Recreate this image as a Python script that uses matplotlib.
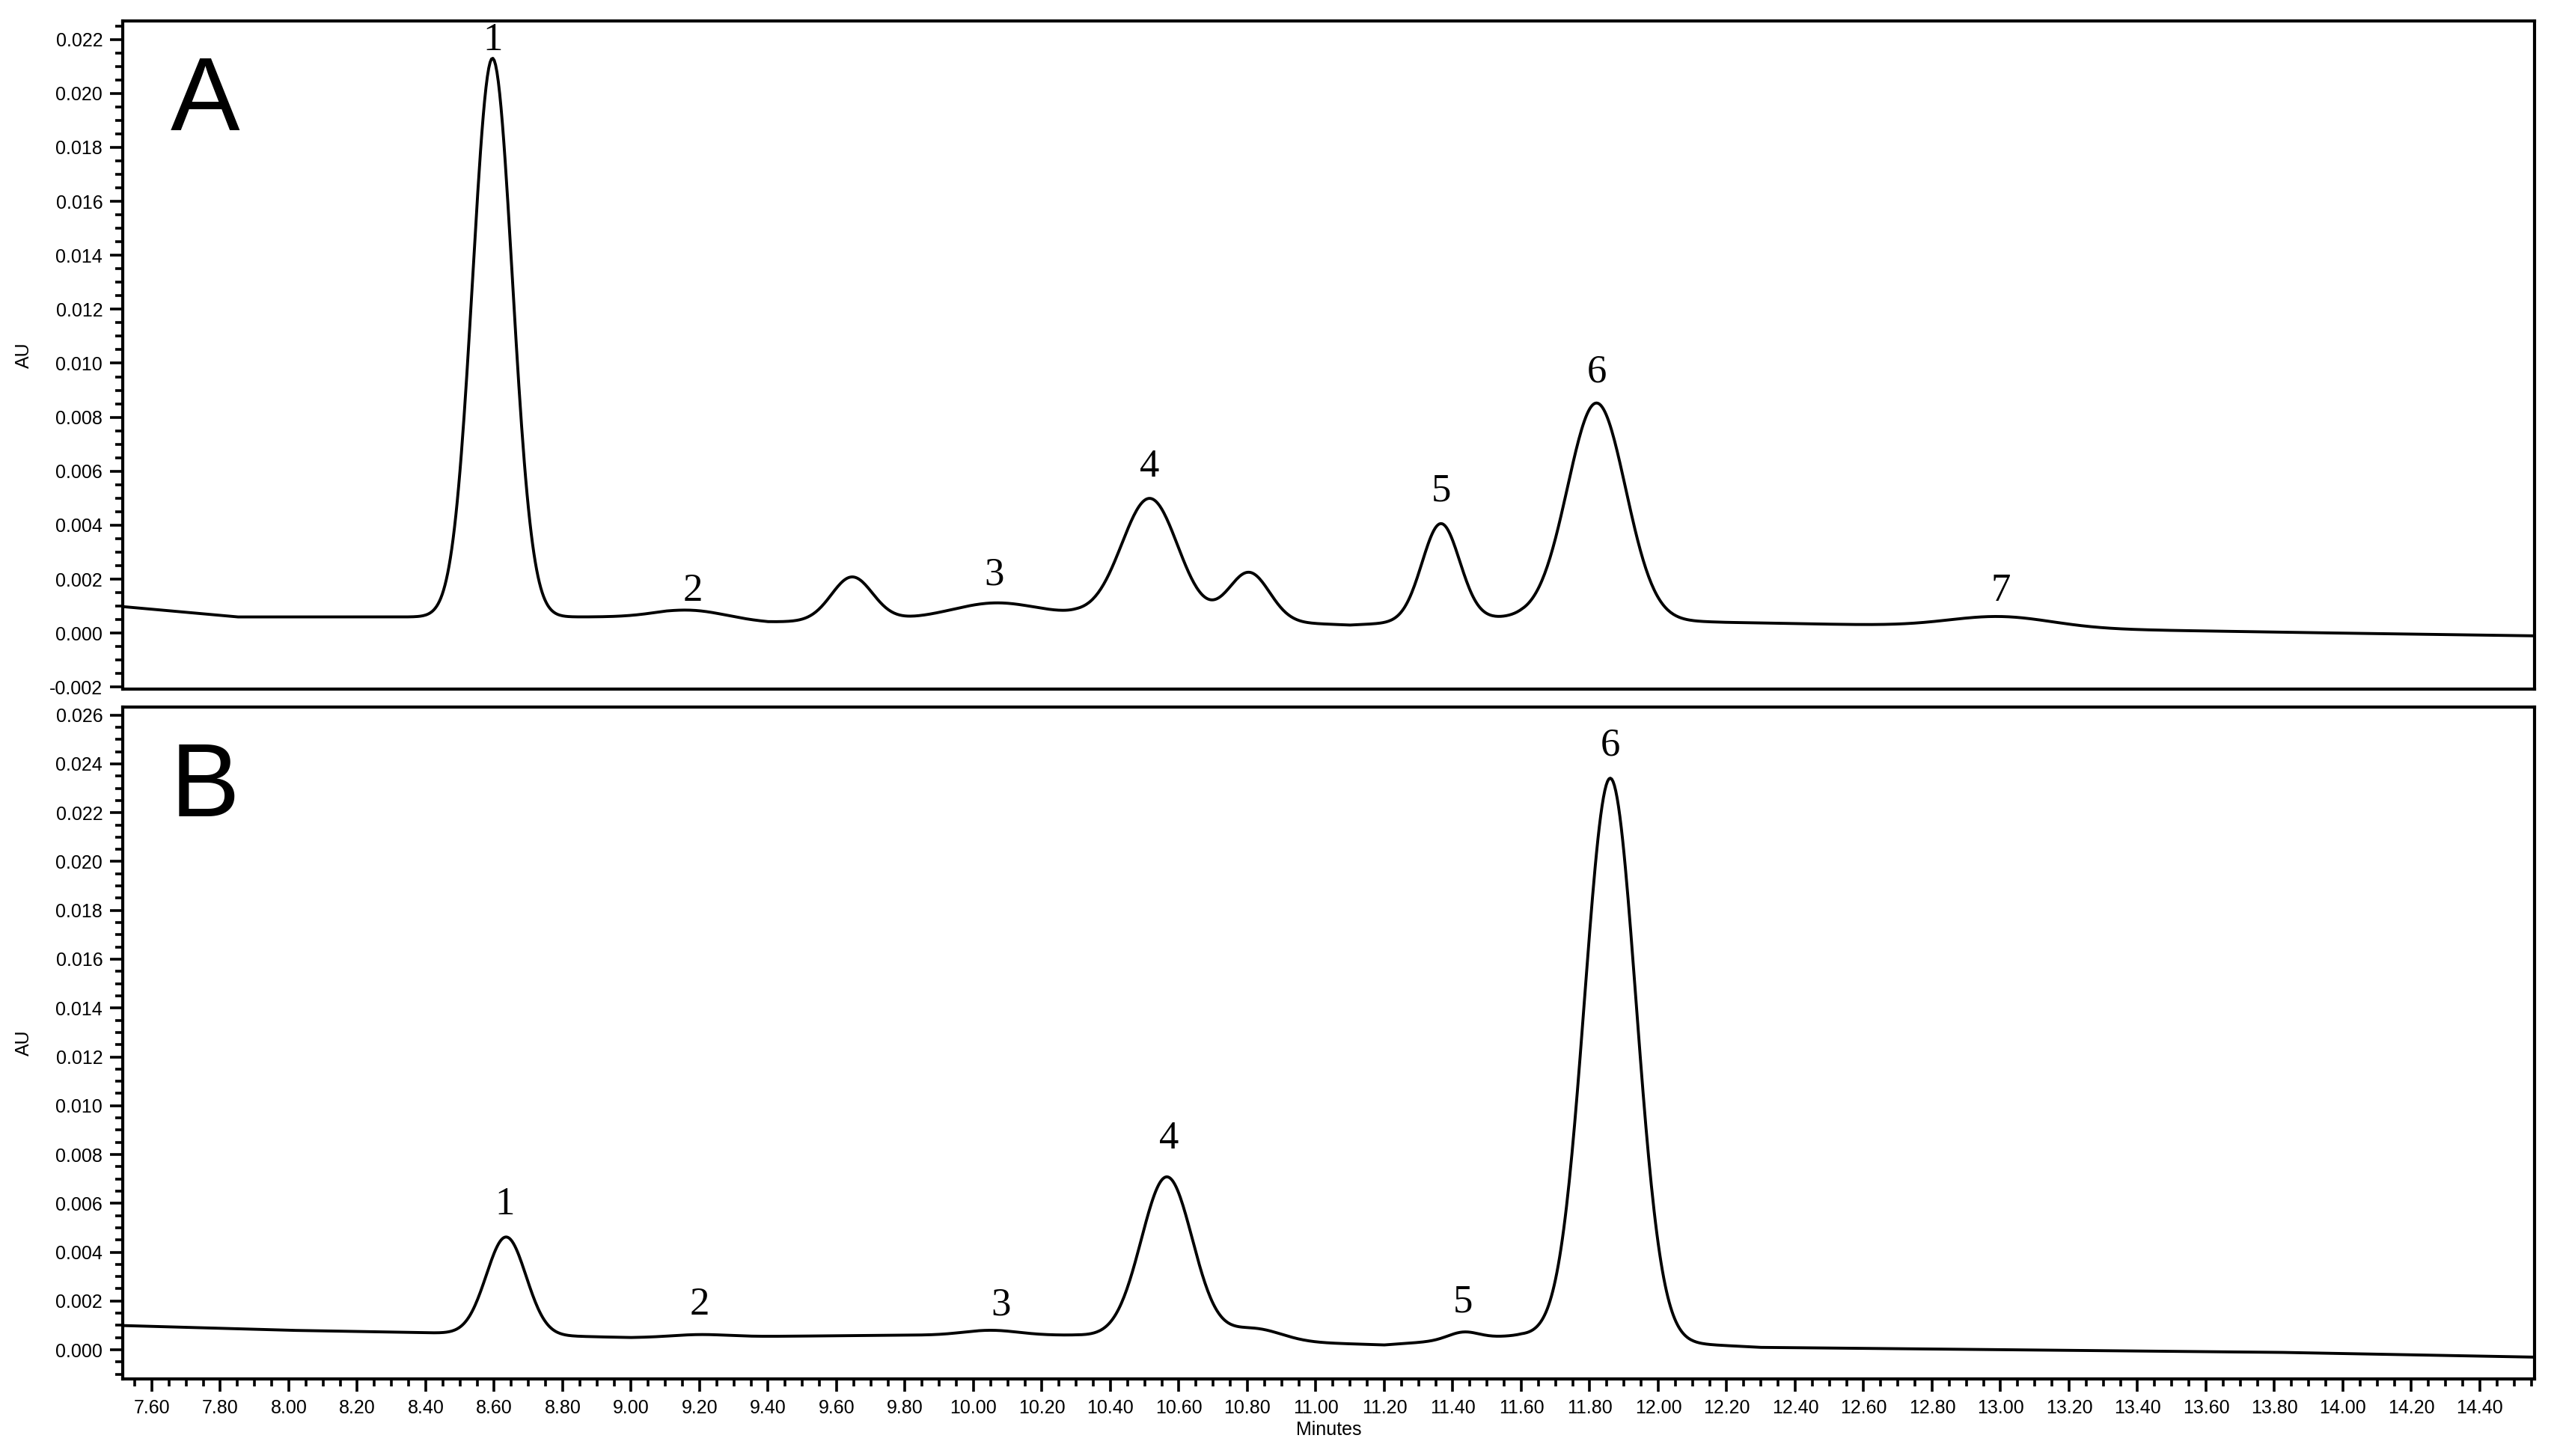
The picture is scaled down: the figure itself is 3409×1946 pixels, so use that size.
import numpy as np
import matplotlib.pyplot as plt
from matplotlib.ticker import MultipleLocator, FormatStrFormatter

# peak tables: retention time (min), height (AU), sigma (min)
a_rt = [8.595, 9.18, 9.645, 10.06, 10.515, 10.805, 11.365, 11.82, 13.00]
a_h = [0.0207, 0.0003, 0.0016, 0.0005, 0.0044, 0.0018, 0.0036, 0.0080, 0.0004]
a_sd = [0.058, 0.10, 0.06, 0.12, 0.082, 0.06, 0.055, 0.085, 0.15]
a_base_t = [7.50, 7.85, 8.40, 9.10, 9.40, 10.30, 11.10, 11.60, 12.20, 13.50, 14.00, 14.56]
a_base_v = [0.0010, 0.0006, 0.0006, 0.0006, 0.0004, 0.0007, 0.0003, 0.0006, 0.0004, 0.0001, 0.0000, -0.0001]
a_labels = ['1', '2', '3', '4', '5', '6', '7']
a_lab_t = [8.595, 9.18, 10.06, 10.515, 11.365, 11.82, 13.00]
a_lab_y = [0.0213, 0.0009, 0.0015, 0.0055, 0.0046, 0.0090, 0.0009]

b_rt = [8.635, 9.20, 10.05, 10.565, 10.82, 11.43, 11.86]
b_h = [0.0040, 0.0001, 0.0002, 0.0066, 0.0005, 0.0003, 0.0230]
b_sd = [0.058, 0.08, 0.08, 0.075, 0.08, 0.045, 0.075]
b_base_t = [7.50, 8.00, 8.40, 9.00, 9.80, 10.30, 11.20, 11.60, 12.30, 13.80, 14.56]
b_base_v = [0.0010, 0.0008, 0.0007, 0.0005, 0.0006, 0.0006, 0.0002, 0.0006, 0.0001, -0.0001, -0.0003]
b_labels = ['1', '2', '3', '4', '5', '6']
b_lab_t = [8.63, 9.20, 10.08, 10.57, 11.43, 11.86]
b_lab_y = [0.0052, 0.0011, 0.0011, 0.0079, 0.0012, 0.0240]


def trace(t, rt, h, sd, bt, bv):
    y = np.interp(t, bt, bv)
    for c, hh, s in zip(rt, h, sd):
        y = y + hh * np.exp(-0.5 * ((t - c) / s) ** 2)
    return y


t = np.arange(7.5, 14.56, 0.004)
ya = trace(t, a_rt, a_h, a_sd, a_base_t, a_base_v)
yb = trace(t, b_rt, b_h, b_sd, b_base_t, b_base_v)

tickfont = ['Liberation Sans Narrow', 'Liberation Sans', 'DejaVu Sans']
fig = plt.figure(figsize=(17.045, 9.73), dpi=200)
ax1 = fig.add_axes([75 / 1563, 1 - 421 / 890, 1478 / 1563, 408 / 890])
ax2 = fig.add_axes([75 / 1563, 1 - 843 / 890, 1478 / 1563, 411 / 890])

panels = [
    (ax1, ya, 'A', a_labels, a_lab_t, a_lab_y, (-0.00206, 0.02267)),
    (ax2, yb, 'B', b_labels, b_lab_t, b_lab_y, (-0.0012, 0.02634)),
]
for ax, y, tag, labs, lt, ly, ylim in panels:
    ax.plot(t, y, color='black', lw=1.4)
    ax.set_xlim(7.514, 14.56)
    ax.set_ylim(*ylim)
    ax.yaxis.set_major_locator(MultipleLocator(0.002))
    ax.yaxis.set_minor_locator(MultipleLocator(0.0005))
    ax.yaxis.set_major_formatter(FormatStrFormatter('%.3f'))
    ax.xaxis.set_major_locator(MultipleLocator(0.2))
    ax.xaxis.set_minor_locator(MultipleLocator(0.05))
    ax.xaxis.set_major_formatter(FormatStrFormatter('%.2f'))
    ax.tick_params(which='major', length=6, width=1.3, labelsize=9)
    ax.tick_params(which='minor', length=3.5, width=1.3)
    for lbl in ax.get_xticklabels() + ax.get_yticklabels():
        lbl.set_family(tickfont)
    for s in ax.spines.values():
        s.set_linewidth(1.5)
    ax.set_ylabel('AU', fontsize=9, family=tickfont, labelpad=12)
    ax.text(0.02, 0.95, tag, transform=ax.transAxes, fontsize=50,
            family=['Liberation Sans', 'DejaVu Sans'], va='top', ha='left')
    for s, xx, yy in zip(labs, lt, ly):
        ax.text(xx, yy, s, fontsize=19, family=['Liberation Serif', 'DejaVu Serif'],
                ha='center', va='bottom')

ax1.tick_params(axis='x', which='both', bottom=False, labelbottom=False)
ax2.set_xlabel('Minutes', fontsize=9, family=tickfont, labelpad=2)
ax1.yaxis.set_label_coords(-0.037, 0.5)
ax2.yaxis.set_label_coords(-0.037, 0.5)

fig.savefig('out.png', dpi=200)
